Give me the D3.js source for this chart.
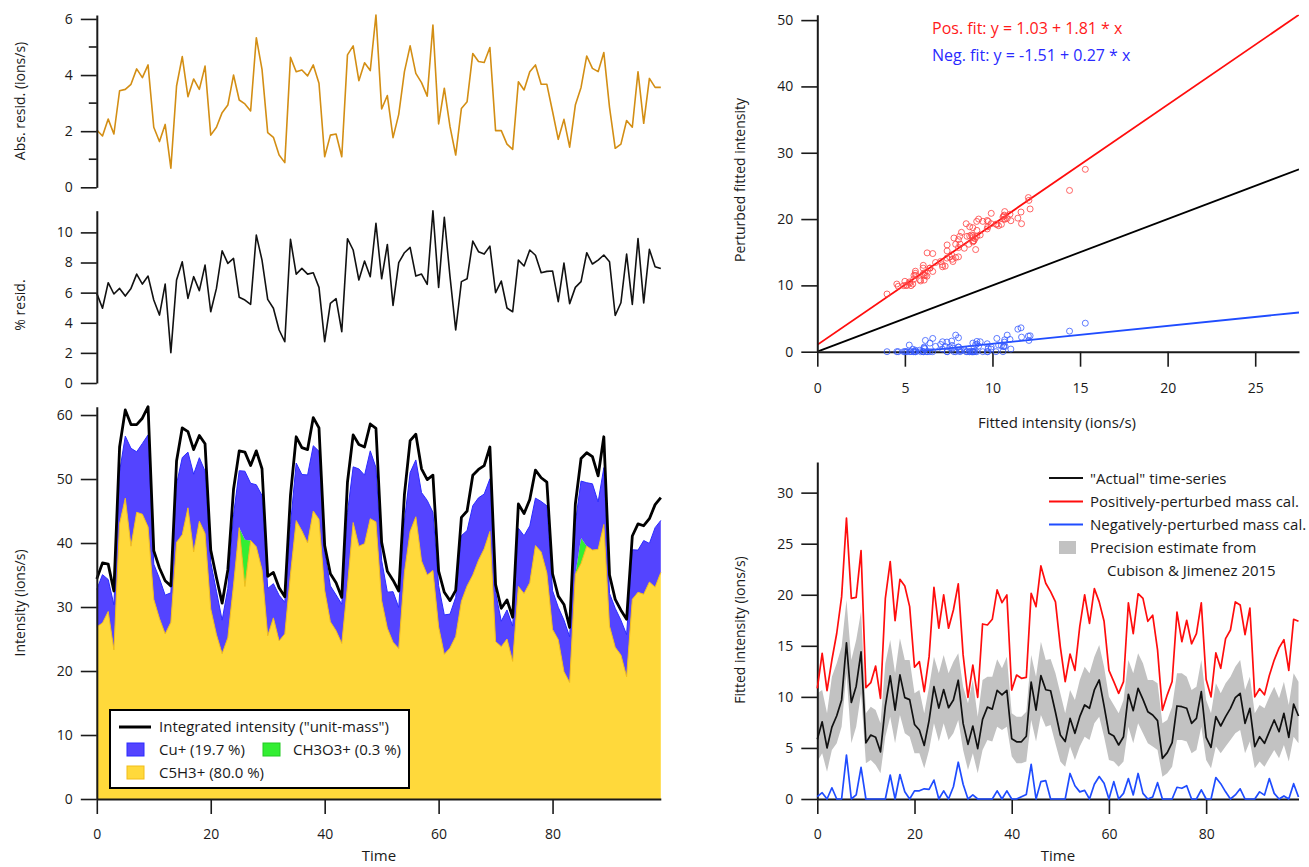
<!DOCTYPE html>
<html>
<head>
<meta charset="utf-8">
<script src="https://cdn.jsdelivr.net/npm/d3@7"></script>
<style>
  body { margin: 0; background: #fff; }
  svg text { font-family: "Open Sans", "Noto Sans", sans-serif; fill: #1a1a1a; }
  .axis text { font-size: 14px; }
  .axis path, .axis line { stroke: #1a1a1a; }
  .title { font-size: 14px; }
  .legend { font-size: 15px; }
</style>
</head>
<body>
<svg id="chart" width="1309" height="867"></svg>
<script>
// ---- Residuals of the unit-mass fit ----
const absResid = [
  2.04,1.83,2.43,1.90,3.44,3.49,3.67,4.22,3.91,4.36,
  2.14,1.63,2.24,0.68,3.61,4.66,3.23,3.86,3.49,4.32,
  1.86,2.14,2.66,2.93,4.00,3.11,2.97,2.72,5.33,4.20,
  1.95,1.78,1.15,0.88,4.63,4.12,4.18,3.97,4.36,3.71,
  1.09,1.86,1.90,1.09,4.72,5.04,3.80,4.44,4.16,6.14,
  2.79,3.27,1.77,2.60,4.12,5.04,4.06,3.73,3.25,5.78,
  2.26,3.53,2.16,1.15,2.81,3.05,4.77,4.48,4.45,4.98,
  2.02,2.02,1.54,1.35,3.76,3.47,4.12,4.36,3.67,3.67,
  2.70,1.71,2.42,1.43,2.93,3.56,4.68,4.24,4.12,4.80,
  2.85,1.39,1.54,2.38,2.14,4.12,2.28,3.88,3.56,3.56];

const pctResid = [
  5.95,4.96,6.66,5.91,6.28,5.77,6.28,7.23,6.57,7.10,
  5.51,4.51,6.57,2.01,6.84,8.05,5.62,7.06,6.13,7.83,
  4.73,6.28,8.78,7.94,8.27,5.69,5.51,5.22,9.82,8.16,
  5.55,4.96,3.52,2.74,9.54,7.23,7.61,7.23,7.32,6.35,
  2.74,5.29,5.60,3.41,9.58,8.83,6.84,8.10,7.06,10.60,
  6.92,9.20,5.15,7.99,8.65,9.00,7.10,7.23,6.55,11.44,
  6.35,11.00,7.06,3.52,6.73,6.92,9.42,8.72,8.56,9.09,
  6.00,6.77,4.98,4.73,8.16,7.77,8.83,8.48,7.32,7.41,
  7.44,5.40,7.96,5.27,6.35,6.73,8.65,7.90,8.16,8.50,
  8.05,4.48,5.33,8.56,5.22,9.59,5.32,8.87,7.72,7.60];

// ---- Integrated (unit-mass) intensity and fitted ion components ----
const totalIntensity = [
  34.4,36.9,36.7,32.5,55.0,60.8,58.5,58.5,59.5,61.3,
  38.8,36.1,34.1,33.3,52.8,58.0,57.4,54.6,56.8,55.5,
  38.9,34.6,30.6,35.8,48.4,54.4,54.2,52.1,54.4,51.6,
  34.8,35.4,33.0,31.6,47.5,56.6,54.9,54.6,59.6,58.0,
  39.6,35.2,33.8,31.5,49.5,56.9,55.4,55.0,58.6,57.9,
  40.1,35.6,34.2,32.5,47.6,56.0,57.0,51.6,49.9,50.6,
  35.6,32.3,31.0,32.6,44.0,45.0,50.6,51.5,52.1,55.0,
  33.5,29.8,31.1,28.4,46.1,44.6,46.8,51.4,50.2,49.5,
  35.2,31.7,30.4,26.8,46.1,53.2,54.1,53.5,50.5,56.6,
  35.0,31.2,29.5,28.1,41.1,43.0,42.7,43.8,46.0,47.1];

const c5h3 = [
  26.9,27.5,29.3,23.3,43.0,47.0,39.5,44.8,44.5,42.5,
  31.2,28.2,25.8,27.6,40.1,41.3,45.5,38.6,43.4,41.5,
  29.7,25.7,22.7,25.2,33.4,42.4,33.2,40.4,39.4,35.8,
  25.5,28.3,24.7,25.8,35.1,43.5,41.9,40.0,45.0,43.7,
  32.6,27.7,26.3,24.3,33.3,43.2,39.5,39.9,43.8,43.3,
  31.0,26.7,24.5,23.5,35.4,41.8,44.1,37.2,35.0,35.7,
  26.9,22.6,23.6,25.4,30.9,33.3,35.0,37.3,39.1,41.8,
  24.6,23.8,25.0,21.5,33.2,32.1,33.8,39.6,38.6,35.3,
  26.5,24.9,19.9,18.2,35.1,36.8,39.5,38.9,39.0,42.9,
  27.0,23.7,22.5,19.1,31.2,32.3,32.0,33.9,33.1,35.4];

const ch3o3 = [
  0,0,0,0,0,0,0,0,0,0,
  0,0,0,0,0,0,0,0,0,0,
  0,0,0,0,0,0,7.3,0,0,0,
  0,0,0,0,0,0,0,0,0,0,
  0,0,0,0,0,0,0,0,0,0,
  0,0,0,0,0,0,0,0,0,0,
  0,0,0,0,0,0,0,0,0,0,
  0,0,0,0,0,0,0,0,0,0,
  0,0,0,0,0,4.0,0,0,0,0,
  0,0,0,0,0,0,0,0,0,0];

// Cu+ fitted intensity ("actual" time-series)
const cuActual = [
  5.85,7.56,5.00,7.04,8.15,9.70,15.30,9.45,11.05,14.40,
  5.50,6.26,6.05,4.62,9.10,12.05,8.70,12.15,9.93,9.73,
  7.30,6.75,5.25,7.70,11.00,8.90,10.72,8.94,9.70,11.63,
  7.40,5.35,7.14,4.93,7.80,9.00,8.80,10.64,10.20,10.64,
  5.90,5.60,5.60,6.14,11.45,8.70,12.08,10.70,10.60,8.50,
  6.27,5.62,7.90,6.43,8.06,9.21,8.88,10.68,11.66,9.11,
  6.43,6.17,5.29,6.10,10.25,8.65,10.84,9.76,8.55,8.23,
  7.67,3.98,4.54,5.52,9.11,9.04,8.88,7.41,7.90,10.51,
  6.04,5.06,8.06,7.15,8.06,8.88,9.92,10.35,7.41,8.88,
  5.13,6.10,5.45,6.59,7.74,6.59,8.39,6.04,9.30,8.13];

// Fits with perturbed mass calibration
const posPerturbed = [
  10.84,14.27,10.61,13.61,16.23,19.79,27.50,19.65,19.75,24.32,
  10.90,11.39,13.02,9.86,19.65,23.24,17.47,21.52,20.86,18.84,
  12.90,13.45,10.51,13.94,20.73,16.72,19.98,16.72,18.51,21.06,
  14.11,9.96,13.12,9.96,17.14,17.04,17.60,20.47,19.23,19.98,
  10.67,12.14,11.82,11.91,20.14,18.84,22.82,21.13,20.30,19.30,
  14.90,11.50,14.20,12.60,16.90,20.00,17.20,20.60,19.30,17.40,
  12.60,11.50,10.35,11.50,19.20,16.20,20.10,19.65,17.40,18.00,
  14.60,8.70,10.20,11.50,18.30,15.40,17.50,15.20,16.20,19.20,
  11.70,10.00,14.30,12.80,15.70,16.55,19.30,19.00,16.10,18.70,
  10.00,10.80,10.20,12.10,13.60,14.80,15.60,12.60,17.60,17.40];

const negPerturbed = [
  0.23,0.62,0,1.10,0,0,4.30,0,0.40,3.10,
  0,0,0,0,0,2.35,0,2.40,0.70,0,
  0.80,0.80,1.00,0.95,1.85,0,0.80,0,1.20,3.60,
  1.45,0,0.40,0,0,0,0,0.80,0,0.80,
  0,0,0.23,0.45,3.40,0,1.70,1.80,0,0,
  0,0,2.50,1.30,0.70,0.85,0,1.45,2.20,1.55,
  0,1.70,0,0.55,2.00,0.40,2.50,0.55,0,0.20,
  1.60,0,0,0,1.15,1.05,1.30,0,0,0.90,
  0,0,2.10,1.50,0.70,0,0.40,1.00,0,0,
  0,0.70,0.38,2.00,0.55,0,0.30,0,1.50,0.20];

// Precision estimate envelope (Cubison & Jimenez 2015)
const precisionLow = [
  3.66,4.47,2.68,4.80,5.45,7.08,12.31,5.45,7.08,10.35,
  3.49,3.82,3.33,2.51,6.10,8.06,5.45,8.23,6.43,6.10,
  4.47,4.47,3.00,4.80,7.41,5.62,7.41,5.78,6.43,7.74,
  4.80,2.84,4.47,2.51,4.80,5.78,5.62,7.08,6.76,7.08,
  4.15,3.49,3.49,3.66,7.74,5.62,8.23,7.08,7.25,5.40,
  3.66,3.17,5.13,3.82,5.13,6.10,5.78,7.41,8.06,6.10,
  3.82,3.66,3.17,3.66,7.08,5.45,7.41,6.43,5.45,5.13,
  4.80,2.19,2.51,3.17,5.78,5.78,5.62,4.47,4.80,7.08,
  3.82,3.00,5.13,4.47,5.13,5.78,6.43,6.76,4.47,5.62,
  3.00,3.66,3.17,3.98,4.80,3.98,5.29,3.66,6.10,5.45];

const precisionHigh = [
  10.35,10.68,8.39,11.98,13.29,14.92,19.49,13.61,15.57,18.35,
  8.39,9.04,8.72,7.41,13.29,15.57,12.31,15.74,13.61,13.61,
  10.35,10.68,8.39,11.00,13.94,12.31,14.10,12.31,13.45,14.27,
  11.00,9.37,11.66,8.06,11.66,11.98,11.98,13.68,12.80,13.94,
  8.39,8.06,8.06,8.55,14.10,11.98,15.41,13.61,13.70,12.31,
  10.35,8.39,10.68,9.70,11.66,12.96,12.31,13.94,15.08,12.96,
  10.02,9.21,8.39,9.70,13.61,12.31,14.27,13.29,11.66,11.66,
  11.33,7.41,7.74,9.04,12.31,12.31,11.98,10.68,11.00,13.61,
  9.70,8.39,11.33,10.35,11.33,11.98,12.96,13.61,10.68,11.98,
  8.39,9.21,8.88,10.02,11.00,9.86,11.49,9.21,12.31,11.49];

// Linear fits of perturbed vs. actual fitted intensity
const posFit = { intercept: 1.03, slope: 1.81 };
const negFit = { intercept: -1.51, slope: 0.27 };

const legendStack = [
  { key: "cu", label: "Cu+ (19.7 %)" },
  { key: "ch3o3", label: "CH3O3+ (0.3 %)" },
  { key: "c5h3", label: "C5H3+ (80.0 %)" }];

// ---------------------------------------------------------------
const svg = d3.select("#chart");
const n = absResid.length;
const idx = d3.range(n);

const colors = {
  resid: "#d38e14",
  c5h3: "#ffd93b", c5h3Edge: "#f2bd1a",
  cu: "#5444ff", cuEdge: "#2b2bff",
  ch3o3: "#33ee33",
  red: "#ff0d0d", blue: "#1f4cff", band: "#c2c2c2"
};

function styleAxis(g) {
  g.attr("font-size", null).attr("font-family", null);
  g.select(".domain").attr("stroke-width", 2);
  g.selectAll(".tick line").attr("stroke-width", 1.6);
}

function leftAxis(scale, x, ticks, pad) {
  const g = svg.append("g").attr("class", "axis").attr("transform", `translate(${x},0)`)
    .call(d3.axisLeft(scale).tickValues(ticks).tickSize(16).tickSizeOuter(0).tickPadding(pad || 8).tickFormat(d3.format("d")));
  styleAxis(g);
  return g;
}
function bottomAxis(scale, y, ticks, pad) {
  const g = svg.append("g").attr("class", "axis").attr("transform", `translate(0,${y})`)
    .call(d3.axisBottom(scale).tickValues(ticks).tickSize(15).tickSizeOuter(0).tickPadding(pad || 15).tickFormat(d3.format("d")));
  styleAxis(g);
  return g;
}
function yTitle(text, x, y) {
  svg.append("text").attr("class", "title").attr("transform", `translate(${x},${y}) rotate(-90)`)
    .attr("text-anchor", "middle").text(text);
}
function xTitle(text, x, y) {
  svg.append("text").attr("class", "title").attr("x", x).attr("y", y)
    .attr("text-anchor", "middle").style("font-size", "15px").text(text);
}

// ---------------- Left column: shared time scale ----------------
const xL = d3.scaleLinear().domain([0, n - 1]).range([96.8, 660.8]);

// Absolute residual
const yAbs = d3.scaleLinear().domain([0, d3.max(absResid)]).range([187.3, 15]);
svg.append("path").datum(absResid)
  .attr("fill", "none").attr("stroke", colors.resid).attr("stroke-width", 1.6)
  .attr("stroke-linejoin", "round")
  .attr("d", d3.line().x((d, i) => xL(i)).y(d => yAbs(d)));
leftAxis(yAbs, 96.8, [0, 2, 4, 6]);
svg.append("g").selectAll("line").data([1, 3, 5]).join("line")
  .attr("x1", 88.8).attr("x2", 96.8).attr("y1", d => yAbs(d)).attr("y2", d => yAbs(d))
  .attr("stroke", "#1a1a1a").attr("stroke-width", 1.6);
yTitle("Abs. resid. (ions/s)", 25, 101);

// Percent residual
const yPct = d3.scaleLinear().domain([0, d3.max(pctResid)]).range([383, 210.7]);
svg.append("path").datum(pctResid)
  .attr("fill", "none").attr("stroke", "#111").attr("stroke-width", 1.6)
  .attr("stroke-linejoin", "round")
  .attr("d", d3.line().x((d, i) => xL(i)).y(d => yPct(d)));
leftAxis(yPct, 96.8, [0, 2, 4, 6, 8, 10]);
yTitle("% resid.", 25, 305);

// Stacked fitted components with integrated intensity
const yInt = d3.scaleLinear().domain([0, d3.max(totalIntensity)]).range([799, 406.7]);
const rows = idx.map(i => ({ c5h3: c5h3[i], ch3o3: ch3o3[i], cu: cuActual[i] }));
const stacked = d3.stack().keys(["c5h3", "ch3o3", "cu"])(rows);
const fillOf = { c5h3: colors.c5h3, ch3o3: colors.ch3o3, cu: colors.cu };
const area = d3.area().x((d, i) => xL(i)).y0(d => yInt(d[0])).y1(d => yInt(d[1]));
svg.append("g").selectAll("path").data(stacked).join("path")
  .attr("fill", d => fillOf[d.key]).attr("d", area);
const topLine = d3.line().x((d, i) => xL(i)).y(d => yInt(d[1]));
svg.append("path").datum(stacked[0]).attr("fill", "none")
  .attr("stroke", colors.c5h3Edge).attr("stroke-width", 1).attr("d", topLine);
svg.append("path").datum(stacked[2]).attr("fill", "none")
  .attr("stroke", colors.cuEdge).attr("stroke-width", 1).attr("d", topLine);
svg.append("path").datum(totalIntensity)
  .attr("fill", "none").attr("stroke", "#000").attr("stroke-width", 2.8)
  .attr("stroke-linejoin", "round")
  .attr("d", d3.line().x((d, i) => xL(i)).y(d => yInt(d)));
leftAxis(yInt, 96.8, [0, 10, 20, 30, 40, 50, 60]);
bottomAxis(xL, 799, [0, 20, 40, 60, 80]);
yTitle("Intensity (ions/s)", 25, 603);
xTitle("Time", 379, 861);

// Legend for the stacked panel
const lg = svg.append("g").attr("class", "legend");
lg.append("rect").attr("x", 110).attr("y", 710).attr("width", 299).attr("height", 78)
  .attr("fill", "#fff").attr("stroke", "#000").attr("stroke-width", 2);
lg.append("line").attr("x1", 119).attr("x2", 151).attr("y1", 727).attr("y2", 727)
  .attr("stroke", "#000").attr("stroke-width", 3);
lg.append("text").attr("x", 159).attr("y", 732).text('Integrated intensity ("unit-mass")');
const swatchPos = [[127, 743, 159], [263, 743, 293], [127, 766, 159]];
legendStack.forEach((s, k) => {
  const [sx, sy, tx] = swatchPos[k];
  lg.append("rect").attr("x", sx).attr("y", sy).attr("width", 17).attr("height", 13)
    .attr("fill", fillOf[s.key])
    .attr("stroke", s.key === "cu" ? colors.cuEdge : s.key === "c5h3" ? colors.c5h3Edge : "#22cc22");
  lg.append("text").attr("x", tx).attr("y", sy + 11.5).text(s.label);
});

// ---------------- Scatter: perturbed vs actual ----------------
const xS = d3.scaleLinear().domain([0, 27.5]).range([817.3, 1299]);
const yS = d3.scaleLinear().domain([0, 50.8]).range([351.7, 14.8]);
svg.append("defs").append("clipPath").attr("id", "scatterClip")
  .append("rect").attr("x", 817.3).attr("y", 14.8).attr("width", 481.7).attr("height", 336.9);
const fitLine = f => [[0, f.intercept], [27.5, f.intercept + f.slope * 27.5]];
const lineXY = d3.line().x(d => xS(d[0])).y(d => yS(d[1]));
const sg = svg.append("g").attr("clip-path", "url(#scatterClip)");
sg.append("path").attr("d", lineXY([[0, 0], [27.5, 27.5]])).attr("stroke", "#000").attr("stroke-width", 1.8).attr("fill", "none");
sg.append("path").attr("d", lineXY(fitLine(posFit))).attr("stroke", colors.red).attr("stroke-width", 1.8).attr("fill", "none");
sg.append("path").attr("d", lineXY(fitLine(negFit))).attr("stroke", colors.blue).attr("stroke-width", 1.8).attr("fill", "none");
leftAxis(yS, 817.3, [0, 10, 20, 30, 40, 50]);
bottomAxis(xS, 351.7, [0, 5, 10, 15, 20, 25], 16);
svg.append("g").selectAll("circle").data(idx).join("circle")
  .attr("cx", i => xS(cuActual[i])).attr("cy", i => yS(posPerturbed[i])).attr("r", 3)
  .attr("fill", "none").attr("stroke", "#ff4040").attr("stroke-opacity", 0.8).attr("stroke-width", 1);
svg.append("g").selectAll("circle").data(idx).join("circle")
  .attr("cx", i => xS(cuActual[i])).attr("cy", i => yS(negPerturbed[i])).attr("r", 3)
  .attr("fill", "none").attr("stroke", "#3a5cff").attr("stroke-opacity", 0.8).attr("stroke-width", 1);
yTitle("Perturbed fitted intensity", 745, 180);
xTitle("Fitted intensity (ions/s)", 1057, 428);
svg.append("text").attr("x", 932).attr("y", 34).style("font-size", "16px").style("fill", "#ff1a1a")
  .text(`Pos. fit: y = ${posFit.intercept.toFixed(2)} + ${posFit.slope.toFixed(2)} * x`);
svg.append("text").attr("x", 932).attr("y", 61).style("font-size", "16px").style("fill", "#2a2aff")
  .text(`Neg. fit: y = ${negFit.intercept.toFixed(2)} + ${negFit.slope.toFixed(2)} * x`);

// ---------------- Time-series of fitted Cu+ ----------------
const xR = d3.scaleLinear().domain([0, n - 1]).range([817.3, 1298.5]);
const yR = d3.scaleLinear().domain([0, 33]).range([799, 462]);
svg.append("path").datum(idx).attr("fill", colors.band)
  .attr("d", d3.area().x(i => xR(i)).y0(i => yR(precisionLow[i])).y1(i => yR(precisionHigh[i])));
leftAxis(yR, 817.3, [0, 5, 10, 15, 20, 25, 30]);
bottomAxis(xR, 799, [0, 20, 40, 60, 80]);
const seriesR = [
  { data: cuActual, color: "#111" },
  { data: posPerturbed, color: colors.red },
  { data: negPerturbed, color: colors.blue }];
seriesR.forEach(s => {
  svg.append("path").datum(s.data).attr("fill", "none").attr("stroke", s.color)
    .attr("stroke-width", 1.7).attr("stroke-linejoin", "round")
    .attr("d", d3.line().x((d, i) => xR(i)).y(d => yR(d)));
});
yTitle("Fitted intensity (ions/s)", 745, 630);
xTitle("Time", 1058, 861);

// Legend for the time-series panel
const rl = svg.append("g").attr("class", "legend");
const rItems = [
  { label: '"Actual" time-series', color: "#111", y: 478 },
  { label: "Positively-perturbed mass cal.", color: colors.red, y: 501.5 },
  { label: "Negatively-perturbed mass cal.", color: colors.blue, y: 524.5 }];
rItems.forEach(it => {
  rl.append("line").attr("x1", 1049).attr("x2", 1083).attr("y1", it.y).attr("y2", it.y)
    .attr("stroke", it.color).attr("stroke-width", 2);
  rl.append("text").attr("x", 1090).attr("y", it.y + 5.5).text(it.label);
});
rl.append("rect").attr("x", 1059).attr("y", 541).attr("width", 17).attr("height", 13).attr("fill", colors.band);
rl.append("text").attr("x", 1090).attr("y", 553).text("Precision estimate from");
rl.append("text").attr("x", 1107).attr("y", 576).text("Cubison & Jimenez 2015");
</script>
</body>
</html>
